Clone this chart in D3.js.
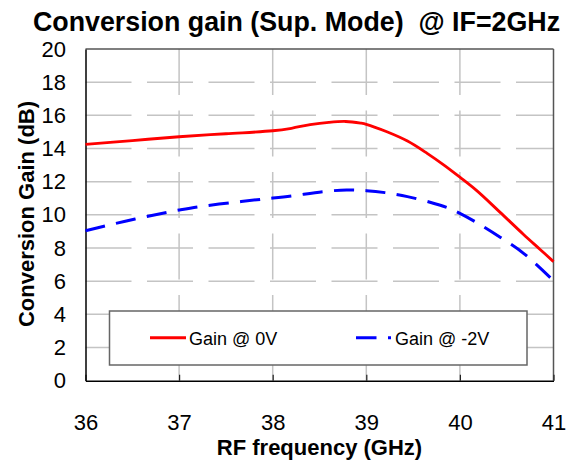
<!DOCTYPE html>
<html><head><meta charset="utf-8">
<script src="https://cdn.jsdelivr.net/npm/d3@7"></script>
<style>body{margin:0;background:#fff}svg{display:block}text{white-space:pre}</style>
</head><body>
<script>
const freq0 = [36.0, 36.5, 37.0, 37.5, 38.0, 38.2, 38.4, 38.6, 38.78, 38.94, 39.0, 39.22, 39.44, 39.65, 39.83, 40.0, 40.18, 40.43, 40.68, 40.86, 41.0];
const gain0 = [14.25, 14.48, 14.71, 14.89, 15.07, 15.22, 15.44, 15.58, 15.63, 15.53, 15.46, 15.01, 14.45, 13.71, 13.0, 12.27, 11.46, 10.15, 8.82, 7.9, 7.18];
const freq2 = [36.0, 36.21, 36.53, 36.87, 37.0, 37.21, 37.55, 37.88, 38.0, 38.2, 38.54, 38.79, 39.0, 39.2, 39.44, 39.68, 39.88, 40.0, 40.18, 40.43, 40.68, 41.0];
const gain2 = [9.04, 9.33, 9.75, 10.15, 10.29, 10.49, 10.73, 10.94, 11.01, 11.14, 11.4, 11.5, 11.46, 11.34, 11.1, 10.76, 10.4, 10.09, 9.53, 8.65, 7.68, 6.03];
const xTicks = [36, 37, 38, 39, 40, 41];
const yTicks = [0, 2, 4, 6, 8, 10, 12, 14, 16, 18, 20];
const seriesNames = ["Gain @ 0V", "Gain @ -2V"];
const titleText = "Conversion gain (Sup. Mode)  @ IF=2GHz";
const xTitle = "RF frequency (GHz)";
const yTitle = "Conversion Gain (dB)";

const W = 574, H = 463;
const L = 85.5, R = 553.5, T = 49, B = 380.7;
const font = "Arial, 'Liberation Sans', sans-serif";
const svg = d3.select("body").append("svg").attr("width", W).attr("height", H);
const x = d3.scaleLinear().domain([36, 41]).range([L, R]);
const y = d3.scaleLinear().domain([0, 20]).range([B, T]);

// gridlines
const grid = svg.append("g").attr("stroke", "#c4c4c4").attr("stroke-width", 1.5).attr("stroke-dasharray", "46,15.5");
grid.selectAll(".hg").data(yTicks.filter(v => v > 0 && v < 20)).join("line")
  .attr("x1", L).attr("x2", R).attr("y1", d => y(d)).attr("y2", d => y(d));
grid.selectAll(".vg").data(xTicks.filter(v => v > 36 && v < 41)).join("line")
  .attr("x1", d => x(d)).attr("x2", d => x(d)).attr("y1", T).attr("y2", B);

// frame
svg.append("line").attr("x1", L).attr("x2", R).attr("y1", T).attr("y2", T).attr("stroke", "#555").attr("stroke-width", 1.5);
svg.append("line").attr("x1", R).attr("x2", R).attr("y1", T).attr("y2", B).attr("stroke", "#555").attr("stroke-width", 1.5);

// x axis
const xAxis = d3.axisBottom(x).tickValues(xTicks).tickFormat(d3.format("d")).tickSizeInner(-6).tickSizeOuter(0).tickPadding(34);
const gx = svg.append("g").attr("transform", `translate(0,${B})`).call(xAxis);
gx.select(".domain").attr("stroke", "#000").attr("stroke-width", 1.5);
gx.selectAll(".tick line").attr("stroke", "#222").attr("stroke-width", 1.2);
gx.selectAll("text").attr("font-family", font).attr("font-size", 22).attr("fill", "#000");

// y axis
const yAxis = d3.axisLeft(y).tickValues(yTicks).tickFormat(d3.format("d")).tickSize(0).tickPadding(19.5);
const gy = svg.append("g").attr("transform", `translate(${L},0)`).call(yAxis);
gy.select(".domain").attr("stroke", "#000").attr("stroke-width", 1.5);
gy.selectAll("text").attr("font-family", font).attr("font-size", 22).attr("fill", "#000");

// lines
const line = d3.line().x(d => x(d[0])).y(d => y(d[1])).curve(d3.curveCatmullRom.alpha(0.5));
svg.append("path").datum(d3.zip(freq0, gain0)).attr("d", line)
  .attr("fill", "none").attr("stroke", "#ff0000").attr("stroke-width", 2.8);
svg.append("path").datum(d3.zip(freq2, gain2)).attr("d", line)
  .attr("fill", "none").attr("stroke", "#0000ff").attr("stroke-width", 3).attr("stroke-dasharray", "20,11.5");

// legend
svg.append("rect").attr("x", 109.5).attr("y", 311).attr("width", 417.5).attr("height", 54)
  .attr("fill", "#fff").attr("stroke", "#666").attr("stroke-width", 1.5);
svg.append("line").attr("x1", 150).attr("x2", 186).attr("y1", 337.7).attr("y2", 337.7).attr("stroke", "#ff0000").attr("stroke-width", 3);
svg.append("line").attr("x1", 356).attr("x2", 391).attr("y1", 337.7).attr("y2", 337.7).attr("stroke", "#0000ff").attr("stroke-width", 3).attr("stroke-dasharray", "20.5,11.5");
svg.append("text").attr("x", 189).attr("y", 344.5).text(seriesNames[0]).attr("font-family", font).attr("font-size", 18);
svg.append("text").attr("x", 395).attr("y", 344.5).text(seriesNames[1]).attr("font-family", font).attr("font-size", 18);

// titles
svg.append("text").attr("x", 296.5).attr("y", 30.5).attr("text-anchor", "middle").text(titleText)
  .attr("font-family", font).attr("font-size", 26.8).attr("font-weight", "bold");
svg.append("text").attr("x", 319.5).attr("y", 455).attr("text-anchor", "middle").text(xTitle)
  .attr("font-family", font).attr("font-size", 22).attr("font-weight", "bold");
svg.append("text").attr("transform", "translate(34,214) rotate(-90)").attr("text-anchor", "middle").text(yTitle)
  .attr("font-family", font).attr("font-size", 22).attr("font-weight", "bold");
</script>
</body></html>
